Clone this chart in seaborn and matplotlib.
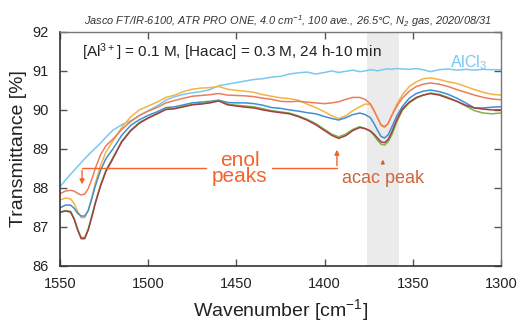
import numpy as np
import pandas as pd
import seaborn as sns
import matplotlib.pyplot as plt

# wavenumber grid [cm-1]
wn = [1550, 1547, 1544, 1542, 1540, 1538, 1536, 1534, 1532, 1530, 1527, 1524, 1520,
      1515, 1510, 1505, 1500, 1495, 1490, 1485, 1480, 1475, 1470, 1465, 1460,
      1455, 1450, 1445, 1440, 1435, 1430, 1425, 1420, 1415, 1410, 1405, 1400,
      1396, 1392, 1388, 1384, 1380,
      1377, 1374, 1372, 1370, 1368, 1366, 1364, 1362, 1359, 1356, 1352, 1348, 1344, 1340,
      1335, 1330, 1325, 1320, 1315, 1310, 1305, 1300]

alcl3 = [88.03, 88.2, 88.35, 88.45, 88.55, 88.65, 88.75, 88.84, 88.93, 89.02, 89.15, 89.3, 89.48,
         89.62, 89.72, 89.85, 89.98, 90.1, 90.25, 90.34, 90.4, 90.44, 90.47, 90.52, 90.62,
         90.66, 90.7, 90.74, 90.78, 90.8, 90.84, 90.86, 90.92, 90.95, 90.97, 90.92, 90.96,
         91.0, 90.96, 90.99, 91.02, 90.98,
         91.0, 91.03, 91.02, 91.0, 91.02, 91.04, 91.05, 91.04, 91.06, 91.05, 91.04, 91.06, 91.03, 90.98,
         91.03, 91.05, 91.02, 91.04, 91.02, 91.04, 91.03, 91.03]

yellow = [87.69, 87.74, 87.72, 87.6, 87.4, 87.24, 87.24, 87.42, 87.75, 88.12, 88.58, 88.92, 89.2,
          89.55, 89.82, 90.0, 90.1, 90.2, 90.32, 90.38, 90.47, 90.53, 90.56, 90.57, 90.6,
          90.53, 90.5, 90.48, 90.45, 90.39, 90.35, 90.31, 90.29, 90.25, 90.15, 90.06, 89.95,
          89.85, 89.78, 89.85, 89.98, 90.08,
          90.15, 90.14, 90.0, 89.8, 89.6, 89.55, 89.65, 89.85, 90.15, 90.38, 90.6, 90.72, 90.8, 90.82,
          90.78, 90.72, 90.68, 90.6, 90.52, 90.45, 90.4, 90.38]

salmon = [87.85, 87.92, 87.94, 87.92, 87.86, 87.82, 87.84, 87.98, 88.22, 88.5, 88.85, 89.08, 89.25,
          89.5, 89.7, 89.86, 89.97, 90.06, 90.18, 90.24, 90.3, 90.35, 90.37, 90.39, 90.42,
          90.38, 90.37, 90.36, 90.34, 90.3, 90.27, 90.22, 90.21, 90.22, 90.2, 90.18, 90.16,
          90.18, 90.21, 90.27, 90.32, 90.32,
          90.27, 90.15, 89.98, 89.8, 89.62, 89.57, 89.65, 89.85, 90.1, 90.3, 90.48, 90.6, 90.66, 90.69,
          90.66, 90.6, 90.52, 90.45, 90.38, 90.32, 90.28, 90.26]

blue = [87.49, 87.56, 87.56, 87.48, 87.35, 87.28, 87.28, 87.42, 87.72, 88.05, 88.45, 88.75, 89.0,
        89.35, 89.6, 89.75, 89.86, 89.95, 90.06, 90.08, 90.13, 90.18, 90.2, 90.22, 90.25,
        90.19, 90.18, 90.18, 90.16, 90.12, 90.06, 90.04, 90.0, 89.97, 89.93, 89.9, 89.83,
        89.78, 89.74, 89.8, 89.88, 89.92,
        89.88, 89.8, 89.65, 89.48, 89.32, 89.28, 89.36, 89.55, 89.85, 90.08, 90.3, 90.42, 90.48, 90.51,
        90.47, 90.4, 90.3, 90.18, 90.05, 90.05, 90.07, 90.08]

green = [87.38, 87.42, 87.4, 87.22, 86.95, 86.73, 86.73, 86.95, 87.28, 87.63, 88.08, 88.45, 88.78,
         89.2, 89.48, 89.68, 89.8, 89.9, 90.02, 90.04, 90.1, 90.14, 90.16, 90.19, 90.24,
         90.15, 90.12, 90.1, 90.08, 90.03, 89.98, 89.95, 89.92, 89.85, 89.76, 89.65, 89.5,
         89.38, 89.31, 89.38, 89.5, 89.57,
         89.52, 89.45, 89.35, 89.22, 89.12, 89.1, 89.18, 89.35, 89.7, 89.98, 90.18, 90.3, 90.38, 90.43,
         90.4, 90.32, 90.22, 90.1, 89.98, 89.92, 89.9, 89.92]

brown = [87.37, 87.41, 87.38, 87.2, 86.92, 86.7, 86.7, 86.92, 87.25, 87.6, 88.05, 88.42, 88.75,
         89.18, 89.46, 89.66, 89.79, 89.9, 90.01, 90.03, 90.08, 90.13, 90.15, 90.18, 90.23,
         90.13, 90.1, 90.07, 90.05, 90.0, 89.96, 89.93, 89.9, 89.83, 89.74, 89.62, 89.47,
         89.35, 89.27, 89.34, 89.47, 89.55,
         89.52, 89.46, 89.38, 89.28, 89.18, 89.16, 89.24, 89.42, 89.75, 90.02, 90.2, 90.32, 90.38, 90.42,
         90.38, 90.3, 90.22, 90.12, 90.05, 90.02, 90.0, 90.0]

series = {"AlCl3": alcl3, "a": yellow, "b": salmon, "c": blue, "d": green, "e": brown}
colors = {"AlCl3": "#79c8f2", "a": "#f4b445", "b": "#ec7c5e", "c": "#3f8fd5",
          "d": "#7ab648", "e": "#a23d45"}

df = pd.concat([pd.DataFrame({"wn": wn, "T": v, "s": k}) for k, v in series.items()])

sns.set_style("ticks")
plt.rcParams['font.family'] = ['Liberation Sans', 'DejaVu Sans']
plt.rcParams['mathtext.fontset'] = 'custom'
plt.rcParams['mathtext.rm'] = 'Liberation Sans'
plt.rcParams['mathtext.it'] = 'Liberation Sans:italic'
plt.rcParams['mathtext.default'] = 'regular'

fig = plt.figure(figsize=(5.2, 3.22), dpi=100)
ax = fig.add_axes([0.1154, 0.174, 0.848, 0.727])

ax.axvspan(1376, 1358, color="#ebebeb", zorder=0, lw=0)
sns.lineplot(data=df, x="wn", y="T", hue="s", palette=colors, estimator=None,
             legend=False, lw=1.1, ax=ax)

ax.set_xlim(1550, 1300)
ax.set_ylim(86, 92)
ax.set_xticks([1550, 1500, 1450, 1400, 1350, 1300])
ax.set_yticks([86, 87, 88, 89, 90, 91, 92])
ax.tick_params(direction="in", length=5, width=1, color="#555555",
               top=True, right=True, labelsize=10.5, pad=8, labelcolor="#222222")
for s in ["left", "bottom"]:
    ax.spines[s].set_color("#333333")
    ax.spines[s].set_linewidth(1.2)
for s in ["top", "right"]:
    ax.spines[s].set_color("#777777")
    ax.spines[s].set_linewidth(1.0)
ax.set_xlabel("Wavenumber [cm$^{-1}$]", fontsize=14, color="#222222", labelpad=4)
ax.set_ylabel("Transmittance [%]", fontsize=14, color="#222222", labelpad=4)

fig.text(0.553, 0.935, "Jasco FT/IR-6100, ATR PRO ONE, 4.0 cm$^{-1}$, 100 ave., 26.5\u00b0C, N$_2$ gas, 2020/08/31",
         ha="center", va="center", fontsize=7.9, style="italic", color="#333333")
ax.text(0.05, 0.915, "[Al$^{3+}$] = 0.1 M, [Hacac] = 0.3 M, 24 h-10 min",
        transform=ax.transAxes, ha="left", va="center", fontsize=11, color="#222222")
ax.text(0.927, 0.87, "AlCl$_3$", transform=ax.transAxes, ha="center", va="center",
        fontsize=11.5, color="#79c8f2")

# enol peaks bracket
enol_c = "#f5632a"
ax.plot([1537.5, 1467], [88.51, 88.51], color=enol_c, lw=1)
ax.plot([1430, 1393], [88.51, 88.51], color=enol_c, lw=1)
ax.annotate("", xy=(1537.5, 88.02), xytext=(1537.5, 88.52),
            arrowprops=dict(arrowstyle="-|>", color=enol_c, lw=1, mutation_scale=7))
ax.annotate("", xy=(1393, 89.05), xytext=(1393, 88.5),
            arrowprops=dict(arrowstyle="-|>", color=enol_c, lw=1, mutation_scale=7))
ax.text(1448, 88.5, "enol\npeaks", ha="center", va="center", fontsize=15,
        color=enol_c, linespacing=0.8)

acac_c = "#d0643a"
ax.annotate("", xy=(1367, 88.8), xytext=(1367, 88.54),
            arrowprops=dict(arrowstyle="-|>", color=acac_c, lw=1, mutation_scale=5))
ax.text(1367, 88.24, "acac peak", ha="center", va="center", fontsize=13, color=acac_c)

fig.savefig("out.png", dpi=100)
